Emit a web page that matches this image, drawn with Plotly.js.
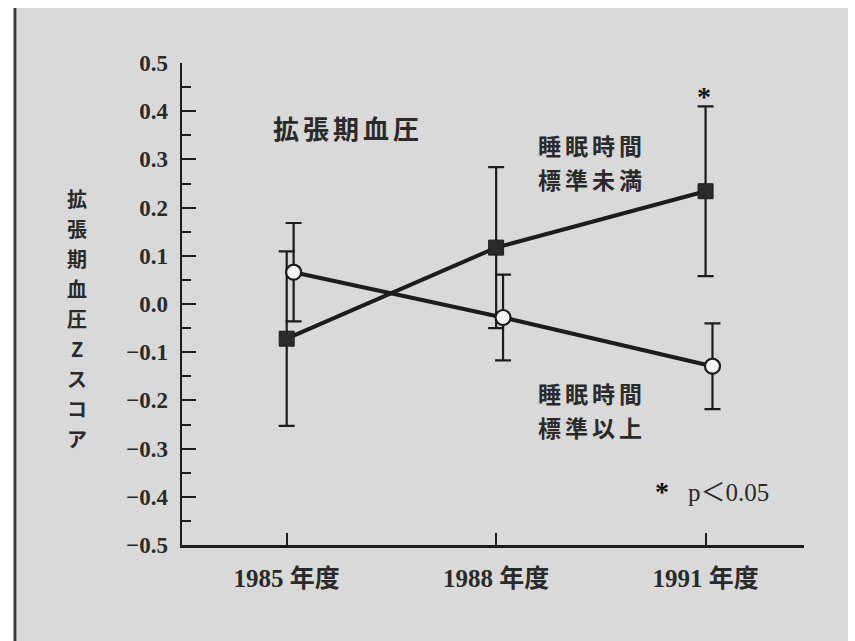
<!DOCTYPE html>
<html>
<head>
<meta charset="utf-8">
<script src="https://cdn.plot.ly/plotly-3.0.1.min.js"></script>
<style>
html,body{margin:0;padding:0;background:#fff;}
#chart{width:855px;height:641px;}
.spaced{letter-spacing:4px;}
</style>
</head>
<body>
<div id="chart"></div>
<script>
// Data
const years = ["1985 年度", "1988 年度", "1991 年度"];
const underMean = [-0.072, 0.117, 0.234];   // 睡眠時間 標準未満 (filled squares)
const underErr  = [0.181, 0.167, 0.176];
const overMean  = [0.066, -0.028, -0.129];  // 睡眠時間 標準以上 (open circles)
const overErr   = [0.102, 0.089, 0.089];
const yTicks = [-0.5, -0.4, -0.3, -0.2, -0.1, 0.0, 0.1, 0.2, 0.3, 0.4, 0.5];
const yTitleChars = ["拡", "張", "期", "血", "圧", "Z", "ス", "コ", "ア"];

const ink = "#1c1c1c";
const txt = "#2a2a2a";
const bg = "#d9d9d9";
const idx = years.map((_, i) => i);

const traceUnder = {
  x: idx, y: underMean, type: "scatter", mode: "lines+markers",
  name: "睡眠時間標準未満",
  line: {color: ink, width: 4},
  marker: {symbol: "square", size: 15, color: "#2a2a2a", line: {color: ink, width: 1}},
  error_y: {type: "data", array: underErr, visible: true, color: ink, thickness: 2.2, width: 8},
  showlegend: false, hoverinfo: "skip"
};
const traceOver = {
  x: idx.map(i => i + 0.033), y: overMean, type: "scatter", mode: "lines+markers",
  name: "睡眠時間標準以上",
  line: {color: ink, width: 4},
  marker: {symbol: "circle", size: 15, color: "#f4f4f4", line: {color: ink, width: 2.2}},
  error_y: {type: "data", array: overErr, visible: true, color: ink, thickness: 2.2, width: 8},
  showlegend: false, hoverinfo: "skip"
};

const jp = "Noto Sans CJK JP";
const serif = "Liberation Serif";
const W = 622, H = 482, L = 182, B = 545;
const px = x => (x - L) / W;
const py = y => (B - y) / H;

const annotations = [
  {x: px(348), y: py(128), text: "拡張期血圧", size: 26},
  {x: px(592), y: py(145), text: "睡眠時間", size: 23},
  {x: px(592), y: py(179), text: "標準未満", size: 23},
  {x: px(592), y: py(393), text: "睡眠時間", size: 23},
  {x: px(592), y: py(427), text: "標準以上", size: 23}
].map(a => ({xref: "paper", yref: "paper", x: a.x, y: a.y, text: a.text, showarrow: false,
  font: {family: jp, size: a.size, color: txt, weight: 700}, xanchor: "center", yanchor: "middle"}));

// vertical y-axis title, one character per annotation
yTitleChars.forEach((c, i) => {
  annotations.push({xref: "paper", yref: "paper", x: px(77), y: py(198 + i * 30), text: c,
    showarrow: false, font: {family: jp, size: 20, color: txt, weight: 700},
    xanchor: "center", yanchor: "middle"});
});

annotations.push(
  {xref: "paper", yref: "paper", x: px(704), y: py(96), text: "*", showarrow: false,
   font: {family: serif, size: 28, color: "#111", weight: 700}, xanchor: "center", yanchor: "middle"},
  {xref: "paper", yref: "paper", x: px(662), y: py(491), text: "*", showarrow: false,
   font: {family: serif, size: 28, color: "#111", weight: 700}, xanchor: "center", yanchor: "middle"},
  {xref: "paper", yref: "paper", x: px(686), y: py(493), text: "p＜0.05", showarrow: false,
   font: {family: serif + ", " + jp, size: 25, color: txt}, xanchor: "left", yanchor: "middle"}
);

const layout = {
  width: 855, height: 641,
  margin: {l: L, r: 855 - L - W, t: B - H, b: 641 - B},
  paper_bgcolor: "#ffffff",
  plot_bgcolor: "rgba(0,0,0,0)",
  showlegend: false,
  xaxis: {
    range: [-0.5, 2.47], showgrid: false, zeroline: false,
    showline: true, linecolor: ink, linewidth: 2.5,
    tickvals: idx, ticktext: years,
    ticks: "inside", ticklen: 12, tickwidth: 2, tickcolor: ink,
    ticklabelstandoff: 9,
    tickfont: {family: serif + ", " + jp, size: 25, color: txt, weight: 700}
  },
  yaxis: {
    range: [-0.5, 0.5], showgrid: false, zeroline: false,
    showline: true, linecolor: ink, linewidth: 2.5,
    tickvals: yTicks, tickformat: ".1f",
    ticks: "inside", ticklen: 14, tickwidth: 2, tickcolor: ink,
    minor: {dtick: 0.05, tick0: 0, ticks: "inside", ticklen: 9, tickwidth: 2, tickcolor: ink},
    ticklabelstandoff: 7,
    tickfont: {family: serif, size: 23, color: txt, weight: 700}
  },
  shapes: [
    {type: "rect", xref: "paper", yref: "paper", x0: px(17), x1: px(848), y0: py(641), y1: py(8),
     fillcolor: bg, line: {width: 0}, layer: "below"},
    {type: "line", xref: "paper", yref: "paper", x0: px(15), x1: px(15), y0: py(641), y1: py(8),
     line: {color: "#3a3a3a", width: 3}, layer: "below"}
  ],
  annotations: annotations
};

Plotly.newPlot("chart", [traceUnder, traceOver], layout, {staticPlot: true, displayModeBar: false}).then(() => {
  document.querySelectorAll(".annotation-text").forEach(t => {
    if (/[拡睡標]/.test(t.textContent) && t.textContent.length > 2) t.classList.add("spaced");
  });
});
</script>
</body>
</html>
